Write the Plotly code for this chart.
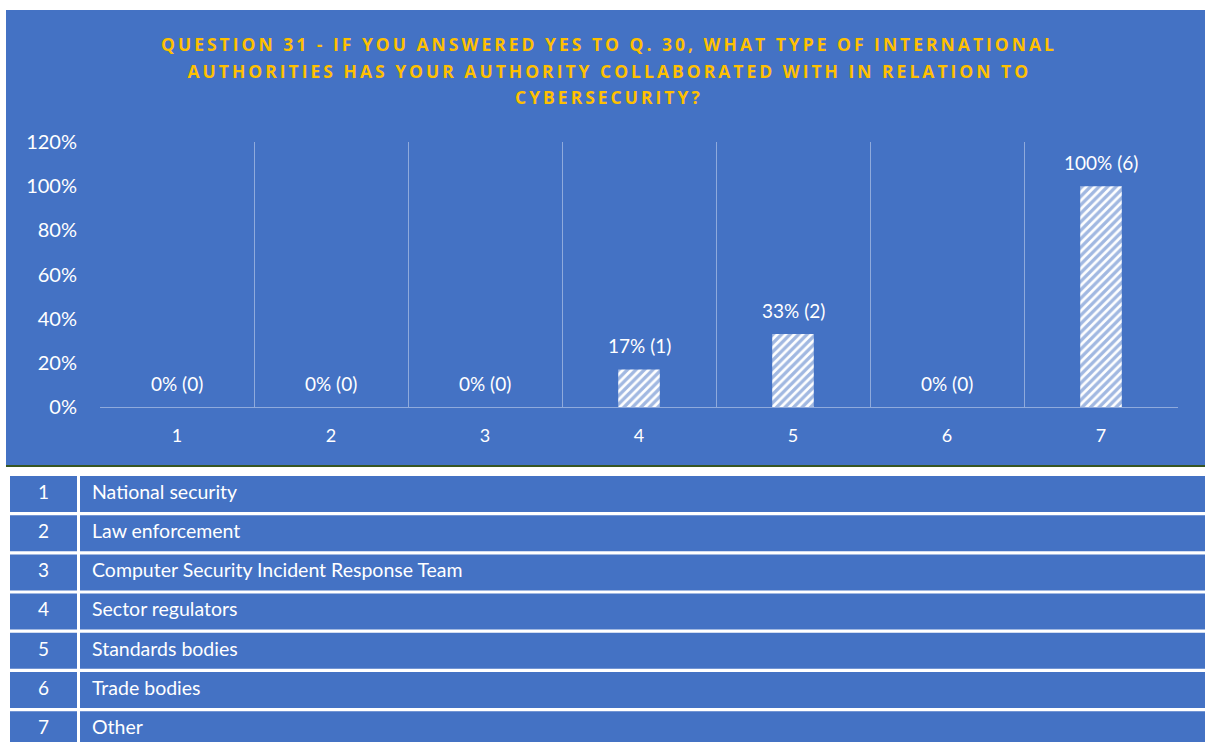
import plotly.graph_objects as go

# Survey results
categories = [1, 2, 3, 4, 5, 6, 7]
percent = [0, 0, 0, 17, 33, 0, 100]
counts = [0, 0, 0, 1, 2, 0, 6]
y_ticks = [0, 0.2, 0.4, 0.6, 0.8, 1.0, 1.2]

# Key table rows
row_numbers = ["1", "2", "3", "4", "5", "6", "7"]
row_labels = [
    "National security",
    "Law enforcement",
    "Computer Security Incident Response Team",
    "Sector regulators",
    "Standards bodies",
    "Trade bodies",
    "Other",
]

title_lines = [
    "QUESTION 31 - IF YOU ANSWERED YES TO Q. 30, WHAT TYPE OF INTERNATIONAL",
    "AUTHORITIES HAS YOUR AUTHORITY COLLABORATED WITH IN RELATION TO",
    "CYBERSECURITY?",
]

W, H = 1205, 742
BLUE = "#4472C4"
GOLD = "#FFC000"
GRID = "#8FAADC"
FONT = "Lato"


def px_x(p):
    return p / W


def px_y(p):
    return 1 - p / H


fig = go.Figure()

# Bars with diagonal hatching
fig.add_trace(go.Bar(
    x=categories,
    y=[p / 100 for p in percent],
    width=0.27,
    marker=dict(
        color="white",
        line=dict(width=0),
        pattern=dict(shape="/", fgcolor=BLUE, bgcolor="white", size=6, solidity=0.55),
    ),
    hoverinfo="skip",
    xaxis="x", yaxis="y",
))

# Table text
rows = list(range(1, len(row_numbers) + 1))
fig.add_trace(go.Scatter(
    x=[43.5 / W] * len(rows), y=rows, mode="text", text=row_numbers,
    textposition="middle center",
    textfont=dict(family=FONT, size=19, color="white"),
    xaxis="x2", yaxis="y2", hoverinfo="skip",
))
fig.add_trace(go.Scatter(
    x=[92 / W] * len(rows), y=rows, mode="text", text=row_labels,
    textposition="middle right",
    textfont=dict(family=FONT, size=19.5, color="white"),
    xaxis="x2", yaxis="y2", hoverinfo="skip",
))

shapes = []
# Chart background panel
shapes.append(dict(type="rect", xref="paper", yref="paper",
                   x0=px_x(6), x1=1.0, y0=px_y(465), y1=px_y(10),
                   fillcolor=BLUE, line=dict(width=0), layer="below"))
shapes.append(dict(type="line", xref="paper", yref="paper",
                   x0=px_x(6), x1=1.0, y0=px_y(466), y1=px_y(466),
                   line=dict(color="#375623", width=2), layer="below"))

# Table cells
half = 18 / 39.2
for r in rows:
    shapes.append(dict(type="rect", xref="x2", yref="y2",
                       x0=10 / W, x1=77 / W, y0=r - half, y1=r + half,
                       fillcolor=BLUE, line=dict(width=0), layer="below"))
    shapes.append(dict(type="rect", xref="x2", yref="y2",
                       x0=80 / W, x1=1.0, y0=r - half, y1=r + half,
                       fillcolor=BLUE, line=dict(width=0), layer="below"))

annotations = []
# Title lines
for i, (line, yc) in enumerate(zip(title_lines, [44, 71, 97])):
    annotations.append(dict(
        text="<b>" + line + "</b>", xref="paper", yref="paper",
        x=px_x(609), y=px_y(yc), xanchor="center", yanchor="middle",
        showarrow=False, font=dict(family="Open Sans", size=17.5, color=GOLD),
    ))

# Value labels
for c, p, n in zip(categories, percent, counts):
    annotations.append(dict(
        text=f"{p}% ({n})", x=c, y=p / 100, xref="x", yref="y",
        xanchor="center", yanchor="bottom", yshift=10, showarrow=False,
        font=dict(family=FONT, size=19, color="white"),
    ))

fig.update_layout(
    width=W, height=H,
    autosize=False,
    margin=dict(l=0, r=0, t=0, b=0, pad=0, autoexpand=False),
    paper_bgcolor="white",
    plot_bgcolor="rgba(0,0,0,0)",
    showlegend=False,
    shapes=shapes,
    annotations=annotations,
    xaxis=dict(
        domain=[px_x(100), px_x(1178)], range=[0.5, 7.5],
        tickvals=categories, ticktext=[str(c) for c in categories],
        showgrid=False, zeroline=False, automargin=False,
        showline=True, linecolor=GRID, linewidth=1,
        ticks="outside", ticklen=12, tickcolor="rgba(0,0,0,0)",
        tickfont=dict(family=FONT, size=18, color="white"),
        minor=dict(tickvals=[c - 0.5 for c in categories] + [categories[-1] + 0.5],
                   showgrid=True, gridcolor=GRID, gridwidth=1, ticks=""),
        anchor="y", fixedrange=True,
    ),
    yaxis=dict(
        domain=[px_y(407), px_y(142)], range=[0, 1.2],
        tickvals=y_ticks, tickformat=".0%",
        showgrid=False, zeroline=False, showline=False, automargin=False,
        ticks="outside", ticklen=18, tickcolor="rgba(0,0,0,0)",
        tickfont=dict(family=FONT, size=20, color="white"),
        anchor="x", fixedrange=True,
    ),
    xaxis2=dict(domain=[0, 1], range=[0, 1], visible=False, automargin=False,
                anchor="y2", fixedrange=True),
    yaxis2=dict(domain=[0, px_y(473)], range=[1 + (742 - 494) / 39.2, 1 - 21 / 39.2],
                visible=False, automargin=False, anchor="x2", fixedrange=True),
)

post = (
    "document.querySelectorAll('g.annotation').forEach(function(g){"
    "var i=parseInt(g.getAttribute('data-index'));"
    "if(i<3){g.querySelectorAll('text').forEach(function(t){t.style.letterSpacing='3px';});}"
    "});"
)
fig.write_html("out.html", post_script=post)
